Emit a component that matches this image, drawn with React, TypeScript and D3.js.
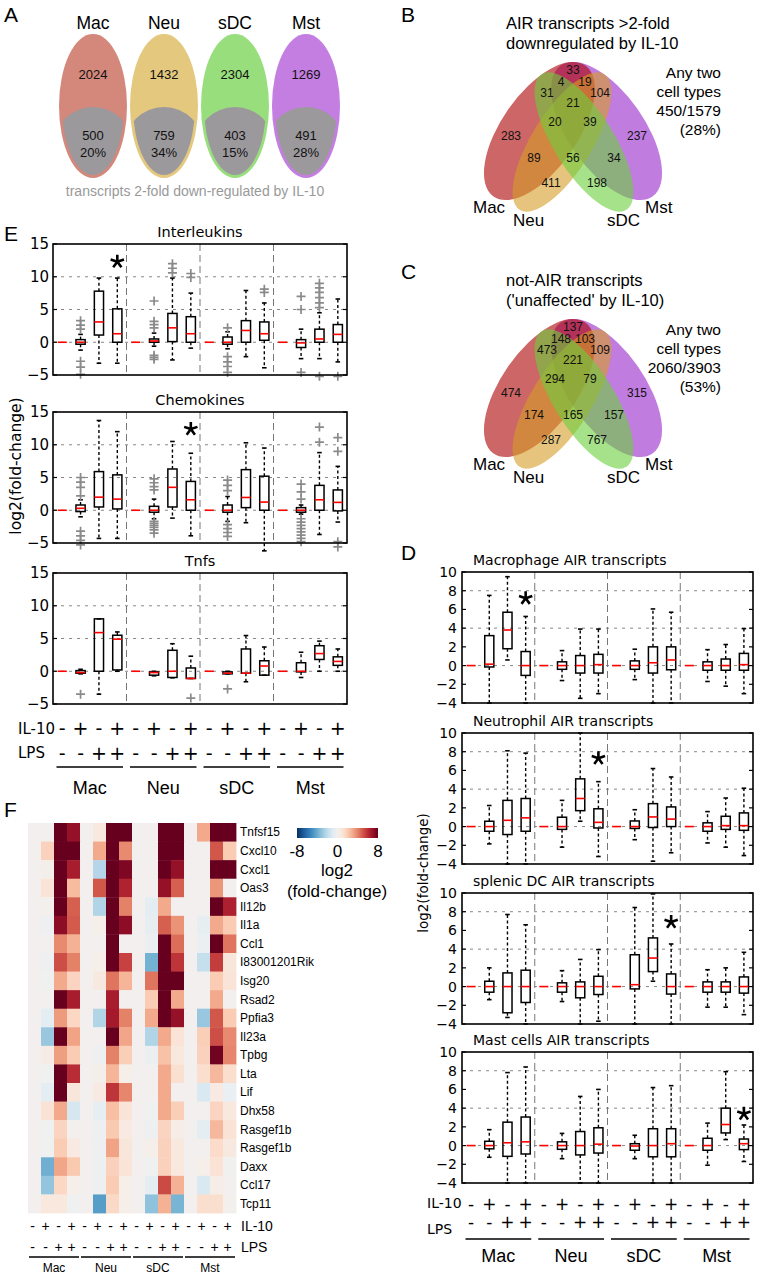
import React from 'react';
import * as d3 from 'd3';

const SANS = "'Liberation Sans', Arial, Helvetica, sans-serif";
const DV = "'DejaVu Sans', 'Bitstream Vera Sans', sans-serif";

const cellTypes = ['Mac', 'Neu', 'sDC', 'Mst'];
const il10Signs = ['-', '+', '-', '+'];
const lpsSigns = ['-', '-', '+', '+'];

// ---------- Panel A ----------
const airTotals = [2024, 1432, 2304, 1269];
const airDown = [500, 759, 403, 491];
const airDownPct = ['20%', '34%', '15%', '28%'];
const aColors = ['#d4877b', '#e3c87e', '#98de7d', '#c47ee2'];

// ---------- Panels B / C (4-set Venn) ----------
const vennB = [33, 4, 19, 31, 104, 21, 20, 39, 283, 237, 89, 56, 34, 411, 198];
const vennC = [137, 148, 103, 473, 109, 221, 294, 79, 474, 315, 174, 165, 157, 287, 767];
const vennBTitle = ['AIR transcripts >2-fold', 'downregulated by IL-10'];
const vennCTitle = ['not-AIR transcripts', "('unaffected' by IL-10)"];
const vennBSummary = ['Any two', 'cell types', '450/1579', '(28%)'];
const vennCSummary = ['Any two', 'cell types', '2060/3903', '(53%)'];

// ---------- Panel E (box stats: low whisker, q1, median, q3, high whisker) ----------
const eInterleukins = [
  [0, 0, 0, 0, 0], [-1.2, -0.3, 0, 0.4, 1.2], [-3.2, 1.1, 3.1, 7.8, 9.8], [-3.2, 0, 1.3, 5.1, 9.8],
  [0, 0, 0, 0, 0], [-0.6, 0, 0.2, 0.5, 1.4], [-2.7, 0.1, 2.2, 4.4, 9.8], [-0.9, 0, 1.3, 3.9, 7.5],
  [0, 0, 0, 0, 0], [-1.0, -0.3, 0, 0.8, 1.6], [-2.2, 0, 1.8, 3.3, 7.9], [-3.9, 0.3, 1.3, 3.1, 6.0],
  [0, 0, 0, 0, 0], [-2.5, -0.8, -0.1, 0.4, 2.0], [-2.5, 0, 0.5, 2.0, 4.5], [-3.0, 0, 1.2, 2.7, 6.6],
];
const eInterleukinsOut = [
  [], [3.3, 2.6, 2.0, -2.9, -3.8, -4.9], [], [],
  [], [6.3, 3.2, 2.7, 2.2, -2.0, -2.3, -2.6], [12.0, 11.3, 10.6], [10.5, 9.9],
  [], [2.2, -2.2, -3.0, -3.7, -4.6], [], [8.1, 7.6],
  [], [7.0, 5.0, -4.6], [9.0, 8.3, 7.6, 6.8, 6.0, 5.3, -5.2], [-5.2],
];
const eChemokines = [
  [0, 0, 0, 0, 0], [-1.0, -0.2, 0.3, 0.8, 1.6], [-4.3, 0.5, 2.0, 5.9, 13.7], [-4.3, 0.2, 1.7, 5.4, 12.0],
  [0, 0, 0, 0, 0], [-1.3, -0.3, 0, 0.6, 1.7], [-1.2, 0.5, 3.5, 6.3, 10.5], [-3.9, 0, 1.6, 4.4, 8.7],
  [0, 0, 0, 0, 0], [-1.7, -0.3, 0, 0.8, 2.1], [-1.9, 0.4, 1.95, 6.2, 10.3], [-6.2, 0, 1.25, 5.2, 9.5],
  [0, 0, 0, 0, 0], [-0.6, -0.3, 0, 0.4, 0.8], [-3.7, 0, 1.6, 3.8, 8.8], [-1.8, -0.1, 1.2, 3.1, 6.7],
];
const eChemokinesOut = [
  [], [5.0, 4.3, 3.5, 2.2, -3.2, -3.9, -4.6, -5.3], [], [],
  [], [4.8, 4.2, 3.6, 3.1, -1.7, -2.0, -2.3, -2.6, -3.0, -3.5], [], [],
  [], [4.6, 3.8, 3.0, -2.2, -2.8, -3.4, -4.0], [], [],
  [], [4.0, 2.8, 1.7, -1.3, -1.8, -2.3, -2.8, -3.3, -3.8, -4.3, -4.8], [12.7, 10.4], [11.1, 9.0, -4.8, -5.6],
];
const eTnfs = [
  [0, 0, 0, 0, 0], [-0.4, -0.3, -0.2, 0.1, 0.3], [-3.5, 0, 5.9, 8.0, 8.0], [0, 0.2, 4.9, 5.5, 6.0],
  [0, 0, 0, 0, 0], [-0.7, -0.6, -0.2, -0.1, 0], [-1.0, -0.95, 0, 3.2, 4.2], [-1.1, -1.1, -1.1, 0.5, 2.3],
  [0, 0, 0, 0, 0], [-0.4, -0.4, -0.3, -0.1, 0], [-1.6, -0.3, -0.3, 3.4, 5.45], [-0.6, -0.6, 0.8, 1.6, 3.7],
  [0, 0, 0, 0, 0], [-0.95, -0.1, 0, 1.3, 2.9], [0, 1.8, 2.7, 3.9, 4.6], [0, 0.9, 1.5, 2.2, 3.4],
];
const eTnfsOut = [
  [], [-3.5], [], [],
  [], [], [], [-4.1],
  [], [-2.7], [], [],
  [], [], [], [],
];
const eStars = [[4, 12.3], [8, 12.4], null];

// ---------- Panel D ----------
const dMacrophage = [
  [0, 0, 0, 0, 0], [-4.0, -0.15, 0.15, 3.2, 7.5], [0.6, 1.8, 3.8, 5.7, 9.5], [-4.0, -1.05, 0, 1.5, 5.25],
  [0, 0, 0, 0, 0], [-1.6, -0.4, 0, 0.4, 1.6], [-3.5, -0.8, 0, 1.07, 3.9], [-3.0, -0.8, 0.1, 1.2, 3.9],
  [0, 0, 0, 0, 0], [-1.5, -0.4, 0, 0.5, 1.75], [-4.0, -0.8, 0.3, 2.0, 6.05], [-4.0, -0.45, 0.6, 2.0, 5.7],
  [0, 0, 0, 0, 0], [-1.7, -0.5, 0, 0.4, 1.7], [-2.2, -0.5, 0, 0.7, 2.25], [-3.0, -0.5, 0.1, 1.3, 3.95],
];
const dNeutrophil = [
  [0, 0, 0, 0, 0], [-1.85, -0.5, 0, 0.57, 2.25], [-4.0, -0.85, 0.67, 2.8, 8.1], [-4.0, -0.5, 0.93, 3.0, 7.85],
  [0, 0, 0, 0, 0], [-2.2, -0.3, 0, 1.0, 2.8], [0.57, 1.7, 3.0, 5.1, 10.0], [-3.2, -0.15, 0.45, 1.9, 4.8],
  [0, 0, 0, 0, 0], [-1.4, -0.2, 0, 0.6, 1.8], [-3.7, -0.1, 1.03, 2.45, 6.2], [-2.8, 0, 0.8, 2.1, 5.3],
  [0, 0, 0, 0, 0], [-1.75, -0.5, 0, 0.4, 1.6], [-2.2, -0.3, 0.1, 1.1, 3.05], [-3.1, -0.4, 0.1, 1.46, 4.1],
];
const dSplenicDC = [
  [0, 0, 0, 0, 0], [-1.4, -0.6, 0, 0.57, 2.0], [-3.3, -2.8, 0, 1.46, 7.7], [-4.0, -1.7, 0, 1.75, 6.6],
  [0, 0, 0, 0, 0], [-1.6, -0.6, 0, 0.4, 1.7], [-4.0, -1.2, 0, 0.5, 2.9], [-3.7, -0.85, 0, 1.1, 3.95],
  [0, 0, 0, 0, 0], [-4.0, -0.25, 0.2, 3.4, 8.45], [0.57, 1.6, 3.05, 5.2, 9.9], [-4.0, -0.8, 0, 1.35, 4.55],
  [0, 0, 0, 0, 0], [-2.2, -0.6, 0, 0.5, 1.8], [-2.2, -0.6, 0, 0.5, 2.0], [-3.0, -0.7, 0, 1.03, 3.66],
];
const dMast = [
  [0, 0, 0, 0, 0], [-1.25, -0.35, 0, 0.46, 1.7], [-4.0, -1.15, 0.3, 2.5, 7.8], [-4.0, -0.9, 0.4, 3.05, 8.4],
  [0, 0, 0, 0, 0], [-1.4, -0.4, 0, 0.4, 1.3], [-4.0, -1.0, 0, 1.5, 5.25], [-4.0, -0.8, 0.15, 1.9, 6.0],
  [0, 0, 0, 0, 0], [-1.4, -0.5, -0.05, 0.2, 1.1], [-4.0, -1.2, 0, 1.8, 6.2], [-4.0, -1.2, 0.2, 1.8, 6.4],
  [0, 0, 0, 0, 0], [-2.1, -0.5, 0, 0.78, 2.4], [0.64, 1.35, 2.25, 4.0, 7.9], [-1.7, -0.43, 0.2, 0.7, 2.2],
];
const dTitles = ['Macrophage AIR transcripts', 'Neutrophil AIR transcripts', 'splenic DC AIR transcripts', 'Mast cells AIR transcripts'];
const dStars = [[4, 7.2], [8, 7.3], [12, 6.9], [16, 3.4]];

// ---------- Panel F (heatmap, log2 fold-change) ----------
const heatGenes = ['Tnfsf15', 'Cxcl10', 'Cxcl1', 'Oas3', 'Il12b', 'Il1a', 'Ccl1', 'I83001201Rik', 'Isg20', 'Rsad2',
  'Ppfia3', 'Il23a', 'Tpbg', 'Lta', 'Lif', 'Dhx58', 'Rasgef1b', 'Rasgef1b', 'Daxx', 'Ccl17', 'Tcp11'];
const heatValues = [
  [0, 0, 8, 7, 0, 0.8, 8, 8, 0, 0, 8, 8, 0, 3, 8, 8],
  [0, 1.8, 8, 8, 0, 3, 8, 3.8, 0, 0, 8, 8, 0, 0, 5, 2],
  [0, 0.2, 8, 6.5, 0, -2.3, 8, 7.5, 0, 0, 8, 7, 0, 0, 8, 8],
  [0, 1, 8, 2.5, 0, 5, 8, 6.3, 0, 0, 7, 4.8, 0, 0, 3.5, 0],
  [0, 0.1, 8, 4.8, 0, -2.4, 8, 4, 0, -0.8, 3, 0, 0, 0, 8, 6.4],
  [0, -0.3, 7.2, 4.9, 0, 0.3, 8, 7.2, 0, -0.6, 4.8, 3.6, 0, -0.6, 3, 2],
  [0, 0, 3.8, 2.8, 0, 0, 8, 0, 0, -0.4, 8, 4.5, 0, -0.4, 8, 4.3],
  [0, -0.3, 5.2, 4, 0, 0.3, 8, 5.5, 0, -3.8, 8, 5.8, 0, -1.8, 5.6, 0.9],
  [0, -0.2, 3, 1.7, 0, 0.7, 4.3, 2.7, 0, 4.3, 8, 8, 0, 0, 2, 1],
  [0, 0, 8, 6.5, 0, 0, 6.5, 0, 0, 2, 8, 3, 0, 0, 3, 0],
  [0, -0.8, 3.4, 1.6, 0, -2.4, 6.6, 4, 0, 3, 8, 7, 0, -3, 5, 2],
  [0, -3, 8, 3.2, 0, 0, 8, 3.1, 0, -2.4, 3, 1, 0, 1.9, 5.2, 3.8],
  [0, 0.5, 3.3, 2, 0, -0.3, 4, 1.9, 0, -0.4, 2.3, 0.8, 0, 1.8, 7.8, 3.9],
  [0, -0.2, 8, 6, 0, 0.2, 2.7, 0.3, 0, 0, 3, 1.2, 0, 1.3, 2.6, 1.3],
  [0, -0.8, 8, 0.9, 0, 0.6, 5.8, 3.9, 0, 0, 3, 0, 0, -1.2, 0.6, -0.5],
  [0, 1.1, 3, -1.3, 0, -0.6, 2.4, 1, 0, -0.2, 3, 1.9, 0, 0.1, 1.7, 0.8],
  [0, -0.2, 1.7, 0.1, 0, -0.3, 2.1, 0.6, 0, -0.3, 1.7, 0.4, 0, -0.8, 2.6, 1.1],
  [0, -0.2, 2, 0.6, 0, -0.3, 3.2, 0.9, 0, 0.3, 1.8, 0.8, 0, 0, 1.4, 0.7],
  [0, -3.9, 3.1, 2.1, 0, -0.3, 1.8, 1, 0, -0.2, 1.8, 0.8, 0, 0.3, 1.1, -0.1],
  [0, -3.1, 1.6, 0.3, 0, -0.3, 2, 0.3, 0, -0.8, 5.3, 2.8, 0, -1.2, 0.4, 0],
  [0, 0.8, 0.8, -0.2, 0, -4.5, 1.5, 0.3, 0, -3.2, 2.8, -3.7, 0, 1.3, 1.3, 0.1],
];
const colorbarTicks = [-8, 0, 8];

// ================= components =================
const fmt = d3.format('d');

function Star({ x, y }: { x: number; y: number }) {
  const arms = d3.range(5).map((k) => {
    const a = ((-90 + k * 72) * Math.PI) / 180;
    return `M${x},${y}L${x + 7 * Math.cos(a)},${y + 7 * Math.sin(a)}`;
  });
  return <path d={arms.join('')} stroke="#000" strokeWidth={2.6} fill="none" />;
}

function BoxPanel(props: any) {
  const { x0, y0, w, h, domain, tickStep, gridStep, boxes, outliers, star, tickFont, tickX } = props;
  const x = d3.scaleLinear().domain([0.5, 16.5]).range([x0, x0 + w]);
  const y = d3.scaleLinear().domain(domain).range([y0 + h, y0]);
  const ticks = d3.range(domain[0], domain[1] + 0.001, tickStep);
  const grids = d3.range(domain[0] + gridStep, domain[1] - 0.001, gridStep);
  const bw = x(1.25) - x(0.75);
  const capW = bw * 0.5;
  return (
    <g>
      {grids.map((g: number) => (
        <line key={'g' + g} x1={x0} x2={x0 + w} y1={y(g)} y2={y(g)} stroke="#888" strokeWidth={1} strokeDasharray="3,5" />
      ))}
      {[4.5, 8.5, 12.5].map((s) => (
        <line key={'s' + s} x1={x(s)} x2={x(s)} y1={y0} y2={y0 + h} stroke="#777" strokeWidth={1} strokeDasharray="7,4" />
      ))}
      {boxes.map((b: number[], i: number) => {
        const cx = x(i + 1);
        const [lo, q1, med, q3, hi] = b;
        const flat = lo === 0 && q1 === 0 && q3 === 0 && hi === 0;
        return (
          <g key={'b' + i}>
            {!flat && (
              <g>
                <line x1={cx} x2={cx} y1={y(q3)} y2={y(hi)} stroke="#000" strokeWidth={1.4} strokeDasharray="3,2.5" />
                <line x1={cx} x2={cx} y1={y(q1)} y2={y(lo)} stroke="#000" strokeWidth={1.4} strokeDasharray="3,2.5" />
                <line x1={cx - capW / 2} x2={cx + capW / 2} y1={y(hi)} y2={y(hi)} stroke="#000" strokeWidth={1.6} />
                <line x1={cx - capW / 2} x2={cx + capW / 2} y1={y(lo)} y2={y(lo)} stroke="#000" strokeWidth={1.6} />
                <rect x={cx - bw / 2} y={y(q3)} width={bw} height={Math.max(0.5, y(q1) - y(q3))} fill="none" stroke="#000" strokeWidth={1.5} />
              </g>
            )}
            <line x1={cx - bw / 2} x2={cx + bw / 2} y1={y(med)} y2={y(med)} stroke="#f00" strokeWidth={1.6} />
            {(outliers?.[i] || []).map((o: number, k: number) => (
              <path key={k} d={`M${cx - 4.5},${y(o)}H${cx + 4.5}M${cx},${y(o) - 4.5}V${y(o) + 4.5}`} stroke="#8a8a8a" strokeWidth={1.7} />
            ))}
          </g>
        );
      })}
      {star && <Star x={x(star[0])} y={y(star[1])} />}
      <rect x={x0} y={y0} width={w} height={h} fill="none" stroke="#000" strokeWidth={1.6} />
      {ticks.map((t: number) => (
        <g key={'t' + t}>
          <line x1={x0} x2={x0 + 4} y1={y(t)} y2={y(t)} stroke="#000" strokeWidth={1.2} />
          <line x1={x0 + w - 4} x2={x0 + w} y1={y(t)} y2={y(t)} stroke="#000" strokeWidth={1.2} />
          <text x={tickX} y={y(t)} dy="0.36em" textAnchor="end" fontFamily={DV} fontSize={tickFont} fill="#000">{fmt(t)}</text>
        </g>
      ))}
    </g>
  );
}

function SignAxis(props: any) {
  const { x0, w, il10Y, lpsY, il10LabelY, lpsLabelY, labelX, lineY, groupY, signFont, labelFont, groupFont } = props;
  const x = d3.scaleLinear().domain([0.5, 16.5]).range([x0, x0 + w]);
  return (
    <g fontFamily={DV} fill="#000">
      <text x={labelX} y={il10LabelY} fontSize={labelFont}>IL-10</text>
      <text x={labelX} y={lpsLabelY} fontSize={labelFont}>LPS</text>
      {cellTypes.map((c, g) => (
        <g key={c}>
          {il10Signs.map((s, k) => (
            <text key={'i' + k} x={x(g * 4 + k + 1)} y={il10Y} fontSize={signFont} textAnchor="middle">{s}</text>
          ))}
          {lpsSigns.map((s, k) => (
            <text key={'l' + k} x={x(g * 4 + k + 1)} y={lpsY} fontSize={signFont} textAnchor="middle">{s}</text>
          ))}
          <line x1={x(g * 4 + 0.5) + 3.5} x2={x(g * 4 + 4.5) - 3.5} y1={lineY} y2={lineY} stroke="#000" strokeWidth={1.5} />
          <text x={(x(g * 4 + 0.5) + x(g * 4 + 4.5)) / 2} y={groupY} fontSize={groupFont} textAnchor="middle" fontFamily={SANS}>{c}</text>
        </g>
      ))}
    </g>
  );
}

// Venn layout: region label centres relative to venn origin, ellipses relative to origin
const vennLabelPos = [
  [0, 7], [-12, 19], [12, 19], [-26, 30], [27, 30], [0, 40], [-18, 59], [17, 59],
  [-62, 73], [64, 73], [-39, 95], [0, 95], [41, 95], [-22, 120], [24, 120],
];
const vennEllipses = [
  { dx: 33.6, dy: 68, rx: 80, ry: 38, rot: 55, color: 'rgb(150,38,202)' },
  { dx: -33.6, dy: 68, rx: 80, ry: 38, rot: -55, color: 'rgb(172,0,0)' },
  { dx: -11, dy: 79, rx: 80, ry: 30, rot: -58, color: 'rgb(213,157,38)' },
  { dx: 11, dy: 79, rx: 80, ry: 30, rot: 58, color: 'rgb(107,207,60)' },
];
const vennCatPos = [[-100, 150], [-60, 163], [34, 163], [72, 150]];

function Venn({ oy, counts, title, summary, letter }: any) {
  const ox = 573;
  return (
    <g fontFamily={SANS}>
      <text x={401} y={oy - 41} fontSize={21}>{letter}</text>
      <text x={506} y={oy - 34} fontSize={16.5}>{title[0]}</text>
      <text x={506} y={oy - 14} fontSize={16.5}>{title[1]}</text>
      {vennEllipses.map((e, i) => (
        <ellipse key={i} cx={0} cy={0} rx={e.rx} ry={e.ry} fill={e.color} fillOpacity={0.6}
          transform={`translate(${ox + e.dx},${oy + e.dy}) rotate(${e.rot})`} />
      ))}
      {counts.map((c: number, i: number) => (
        <text key={i} x={ox + vennLabelPos[i][0]} y={oy + vennLabelPos[i][1] + 4.3} fontSize={12} textAnchor="middle" fill="#111">{c}</text>
      ))}
      {cellTypes.map((c, i) => (
        <text key={c} x={ox + vennCatPos[i][0]} y={oy + vennCatPos[i][1]} fontSize={17}>{c}</text>
      ))}
      {summary.map((s: string, i: number) => (
        <text key={s} x={721} y={oy + 15 + i * 19} fontSize={15.5} textAnchor="end">{s}</text>
      ))}
    </g>
  );
}

function PanelA() {
  const ax = d3.scalePoint<string>().domain(cellTypes).range([93, 306]);
  const cy = 106;
  return (
    <g fontFamily={SANS}>
      <defs>
        {cellTypes.map((c) => (
          <clipPath id={'arc-' + c} key={c}>
            <circle cx={ax(c)} cy={146.5} r={39.5} />
          </clipPath>
        ))}
      </defs>
      <text x={4} y={22} fontSize={21}>A</text>
      {cellTypes.map((c, i) => {
        const cx = ax(c) as number;
        return (
          <g key={c}>
            <text x={cx} y={29} fontSize={17.5} textAnchor="middle">{c}</text>
            <ellipse cx={cx} cy={cy} rx={34} ry={72} fill={aColors[i]} />
            <ellipse cx={cx} cy={cy} rx={31} ry={69} fill="#9c999d" clipPath={`url(#arc-${c})`} />
            <text x={cx} y={79} fontSize={13} textAnchor="middle" fill="#111">{airTotals[i]}</text>
            <text x={cx} y={139.5} fontSize={13} textAnchor="middle" fill="#111">{airDown[i]}</text>
            <text x={cx} y={156.5} fontSize={13} textAnchor="middle" fill="#111">{airDownPct[i]}</text>
          </g>
        );
      })}
      <text x={195} y={196} fontSize={14} textAnchor="middle" fill="#999">transcripts 2-fold down-regulated by IL-10</text>
    </g>
  );
}

function PanelE() {
  const panels = [
    { title: 'Interleukins', y0: 244, boxes: eInterleukins, out: eInterleukinsOut },
    { title: 'Chemokines', y0: 412, boxes: eChemokines, out: eChemokinesOut },
    { title: 'Tnfs', y0: 573, boxes: eTnfs, out: eTnfsOut },
  ];
  return (
    <g>
      <text x={4} y={241} fontSize={21} fontFamily={SANS}>E</text>
      {panels.map((p, i) => (
        <g key={p.title}>
          <text x={200} y={p.y0 - 7} fontSize={14.5} fontFamily={DV} textAnchor="middle">{p.title}</text>
          <BoxPanel x0={53} y0={p.y0} w={294} h={131} domain={[-5, 15]} tickStep={5} gridStep={5}
            boxes={p.boxes} outliers={p.out} star={eStars[i]} tickFont={15} tickX={49} />
        </g>
      ))}
      <text transform="translate(21,466) rotate(-90)" fontSize={15.5} fontFamily={DV} textAnchor="middle">log2(fold-change)</text>
      <SignAxis x0={53} w={294} il10Y={735} lpsY={760} il10LabelY={734} lpsLabelY={758} labelX={18}
        lineY={767} groupY={793.5} signFont={19} labelFont={15} groupFont={18} />
    </g>
  );
}

function PanelD() {
  const tops = [572, 733, 893, 1052];
  const data = [dMacrophage, dNeutrophil, dSplenicDC, dMast];
  return (
    <g>
      <text x={401} y={560} fontSize={21} fontFamily={SANS}>D</text>
      {tops.map((t, i) => (
        <g key={i}>
          <text x={473} y={t - 7} fontSize={14} fontFamily={DV}>{dTitles[i]}</text>
          <BoxPanel x0={462} y0={t} w={291} h={131} domain={[-4, 10]} tickStep={2} gridStep={4}
            boxes={data[i]} outliers={[]} star={dStars[i]} tickFont={14} tickX={457} />
        </g>
      ))}
      <text transform="translate(428,873) rotate(-90)" fontSize={13.5} fontFamily={DV} textAnchor="middle">log2(fold-change)</text>
      <SignAxis x0={462} w={291} il10Y={1210} lpsY={1228} il10LabelY={1208} lpsLabelY={1234} labelX={427}
        lineY={1239} groupY={1262} signFont={17} labelFont={14} groupFont={18} />
    </g>
  );
}

function PanelF() {
  const xb = d3.scaleBand<number>().domain(d3.range(16)).range([28, 236]);
  const yb = d3.scaleBand<number>().domain(d3.range(heatGenes.length)).range([823, 1213]);
  const color = d3.scaleSequential(d3.interpolateRdBu).domain([8, -8]).clamp(true);
  const cbx = d3.scaleLinear().domain([-8, 8]).range([297, 378]);
  const stops = d3.range(0, 1.0001, 0.05);
  const bw = xb.bandwidth();
  return (
    <g fontFamily={SANS}>
      <defs>
        <linearGradient id="cbar" x1="0" x2="1" y1="0" y2="0">
          {stops.map((s) => (
            <stop key={s} offset={s} stopColor={color(-8 + 16 * s)} />
          ))}
        </linearGradient>
      </defs>
      <text x={4} y={817} fontSize={21}>F</text>
      {heatValues.map((row, r) =>
        row.map((v, c) => (
          <rect key={r + '-' + c} x={xb(c)} y={yb(r)} width={bw + 0.4} height={yb.bandwidth() + 0.4} fill={color(v)} />
        ))
      )}
      {heatGenes.map((g, r) => (
        <text key={r} x={240} y={(yb(r) as number) + yb.bandwidth() / 2 + 4.2} fontSize={12}>{g}</text>
      ))}
      <rect x={cbx(-8)} y={828} width={cbx(8) - cbx(-8)} height={10} fill="url(#cbar)" />
      {colorbarTicks.map((t) => (
        <text key={t} x={cbx(t)} y={857} fontSize={17} textAnchor="middle">{t}</text>
      ))}
      <text x={337} y={876} fontSize={17} textAnchor="middle">log2</text>
      <text x={337} y={897} fontSize={17} textAnchor="middle">(fold-change)</text>
      {cellTypes.map((ct, g) => (
        <g key={ct}>
          {il10Signs.map((s, k) => (
            <text key={'i' + k} x={(xb(g * 4 + k) as number) + bw / 2 - 2} y={1230.5} fontSize={14} textAnchor="middle">{s}</text>
          ))}
          {lpsSigns.map((s, k) => (
            <text key={'l' + k} x={(xb(g * 4 + k) as number) + bw / 2 - 2} y={1252} fontSize={14} textAnchor="middle">{s}</text>
          ))}
          <line x1={(xb(g * 4) as number) + 1} x2={(xb(g * 4 + 3) as number) + bw - 1} y1={1257} y2={1257} stroke="#000" strokeWidth={1.4} />
          <text x={(xb(g * 4) as number) + 2 * bw} y={1272} fontSize={12} textAnchor="middle">{ct}</text>
        </g>
      ))}
      <text x={241} y={1231} fontSize={14}>IL-10</text>
      <text x={241} y={1252} fontSize={14}>LPS</text>
    </g>
  );
}

export default function App() {
  return (
    <svg width={759} height={1277} viewBox="0 0 759 1277" style={{ position: 'absolute', left: 0, top: 0, background: '#fff' }}>
      <PanelA />
      <Venn oy={63} counts={vennB} title={vennBTitle} summary={vennBSummary} letter="B" />
      <Venn oy={320} counts={vennC} title={vennCTitle} summary={vennCSummary} letter="C" />
      <PanelE />
      <PanelD />
      <PanelF />
    </svg>
  );
}
